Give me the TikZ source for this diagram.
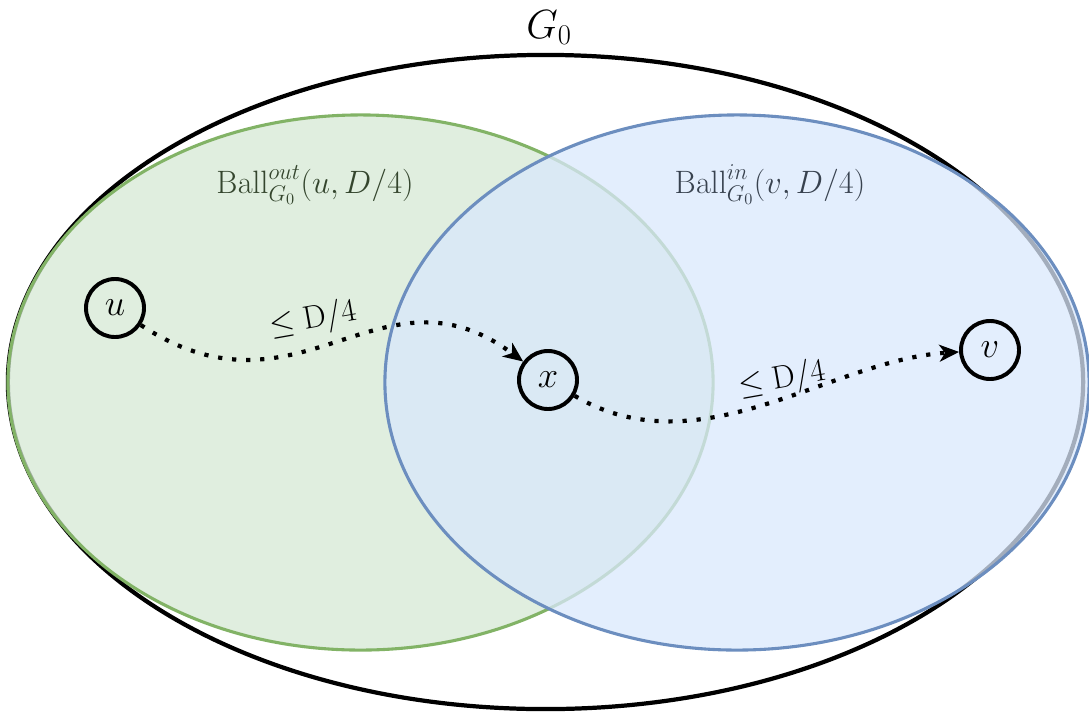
\RequirePackage{fix-cm}
\documentclass[tikz,border=0pt]{standalone}
\usepackage{amsmath}
\usepackage{amssymb}
\usetikzlibrary{arrows.meta}

\definecolor{ballgreen}{HTML}{D5E8D4}
\definecolor{ballgreenline}{HTML}{82B366}
\definecolor{ballblue}{HTML}{DAE8FC}
\definecolor{ballblueline}{HTML}{6C8EBF}
\definecolor{greentext}{HTML}{34452D}
\definecolor{bluetext}{HTML}{38424F}

\begin{document}
\begin{tikzpicture}[x=0.025cm,y=-0.025cm,
	vertex/.style={draw,circle,line width=2.8pt,minimum size=1.45cm,inner sep=0pt,font=\fontsize{26}{30}\selectfont},
	path/.style={line width=3pt,dash pattern=on 3pt off 7pt,-{Stealth[length=14pt,width=12pt,inset=4pt]}},
	biglabel/.style={font=\fontsize{23}{27}\selectfont}]
	\useasboundingbox (0,0) rectangle (1089,713);
	% outer graph and the two balls
	\draw [line width=3pt] (545.5,382) ellipse [x radius=13.4375cm,y radius=8.175cm];
	\draw [ballgreenline,fill=ballgreen,fill opacity=0.75,line width=2.2pt] (360.5,382.5) ellipse [x radius=8.8125cm,y radius=6.6875cm];
	\draw [ballblueline,fill=ballblue,fill opacity=0.75,line width=2.2pt] (737,382.5) ellipse [x radius=8.8cm,y radius=6.6875cm];
	% labels
	\node [font=\fontsize{29}{33}\selectfont] (g0) at (549,28) {$G_0$};
	\node [biglabel,text=greentext] (ballout) at (315,185) {$\mathrm{Ball}^{out}_{G_0}(u,D/4)$};
	\node [biglabel,text=bluetext] (ballin) at (770,185) {$\mathrm{Ball}^{in}_{G_0}(v,D/4)$};
	% vertices
	\node [vertex] (u) at (115,308) {$u$};
	\node [vertex] (x) at (548,380) {$x$};
	\node [vertex] (v) at (990,350) {$v$};
	% paths
	\draw [path] (u) .. controls (300,430) and (380,255) .. (x);
	\draw [path] (x) .. controls (700,470) and (830,360) .. (v);
	\node [biglabel,rotate=10] (d1) at (313,320) {$\leq \mathrm{D}/4$};
	\node [biglabel,rotate=10] (d2) at (782,380) {$\leq \mathrm{D}/4$};
\end{tikzpicture}
\end{document}
